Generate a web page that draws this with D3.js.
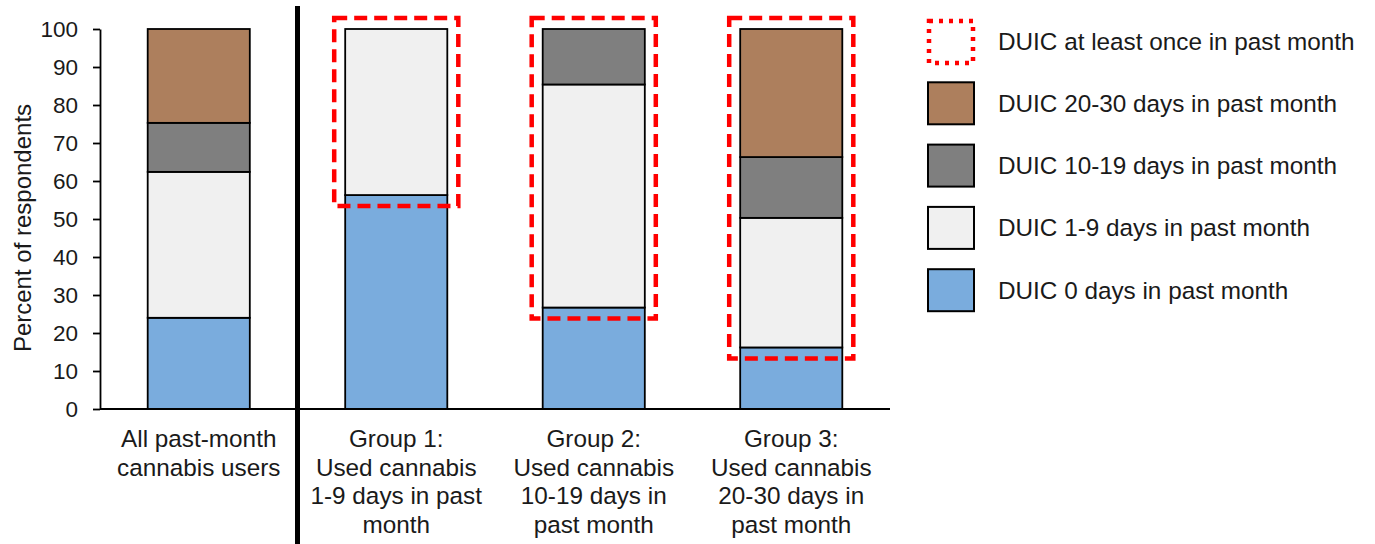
<!DOCTYPE html>
<html>
<head>
<meta charset="utf-8">
<script src="https://cdn.jsdelivr.net/npm/d3@7"></script>
<style>
  body { margin: 0; background: #fff; }
  svg text { font-family: "Liberation Sans", Arial, sans-serif; fill: #1a1a1a; }
</style>
</head>
<body>
<div id="chart"></div>
<script>
// categories (x axis), each label split on lines
const categories = ["all", "g1", "g2", "g3"];
const categoryLabels = [
    ["All past-month", "cannabis users"],
    ["Group 1:", "Used cannabis", "1-9 days in past", "month"],
    ["Group 2:", "Used cannabis", "10-19 days in", "past month"],
    ["Group 3:", "Used cannabis", "20-30 days in", "past month"]
];

// percent of respondents per DUIC frequency, bottom to top
const duic0 = [24.0, 56.3, 26.7, 16.2];
const duic1to9 = [38.4, 43.7, 58.7, 34.1];
const duic10to19 = [12.9, 0, 14.6, 16.0];
const duic20to30 = [24.7, 0, 0, 33.7];

const seriesKeys = ["duic0", "duic1to9", "duic10to19", "duic20to30"];
const seriesNames = ["DUIC 0 days in past month", "DUIC 1-9 days in past month",
    "DUIC 10-19 days in past month", "DUIC 20-30 days in past month"];
const seriesColors = ["#7aacdd", "#f0f0f0", "#7f7f7f", "#ad7f5d"];

// groups outlined with the red box (DUIC at least once)
const boxedCategories = ["g1", "g2", "g3"];
const yTicks = [0, 10, 20, 30, 40, 50, 60, 70, 80, 90, 100];

const width = 1375, height = 544;
const margin = {left: 100, right: 485, top: 29, bottom: 135};

let rows = categories.map((c, i) => ({
    cat: c,
    duic0: duic0[i],
    duic1to9: duic1to9[i],
    duic10to19: duic10to19[i],
    duic20to30: duic20to30[i]
}));

let stacked = d3.stack().keys(seriesKeys)(rows);

let svg = d3.select("#chart")
    .append("svg")
    .attr("width", width)
    .attr("height", height);

let x = d3.scaleBand()
    .domain(categories)
    .range([margin.left, width - margin.right])
    .paddingInner(0.483)
    .paddingOuter(0.2415);

let y = d3.scaleLinear()
    .domain([0, 100])
    .range([height - margin.bottom, margin.top]);

// bars
svg.selectAll(".layer")
    .data(stacked)
    .enter()
    .append("g")
    .attr("class", "layer")
    .attr("fill", (d, i) => seriesColors[i])
    .selectAll("rect")
    .data(d => d.filter(s => s[1] - s[0] > 0))
    .enter()
    .append("rect")
    .attr("x", d => x(d.data.cat))
    .attr("y", d => y(d[1]))
    .attr("width", x.bandwidth())
    .attr("height", d => y(d[0]) - y(d[1]))
    .attr("stroke", "#000")
    .attr("stroke-width", 1.8);

// red dashed boxes around the DUIC >= 1 day part
let pad = 11;
svg.selectAll(".duic-box")
    .data(rows.filter(r => boxedCategories.includes(r.cat)))
    .enter()
    .append("rect")
    .attr("class", "duic-box")
    .attr("x", d => x(d.cat) - pad)
    .attr("y", d => y(100) - pad)
    .attr("width", x.bandwidth() + 2 * pad)
    .attr("height", d => y(d.duic0) - y(100) + 2 * pad)
    .attr("fill", "none")
    .attr("stroke", "#ff0000")
    .attr("stroke-width", 4.5)
    .attr("stroke-dasharray", "13,7");

// y axis
let yAxis = svg.append("g")
    .attr("transform", "translate(" + margin.left + ",0)")
    .call(d3.axisLeft(y).tickValues(yTicks).tickSize(7).tickSizeOuter(0).tickPadding(15));
yAxis.select(".domain").attr("stroke", "#000").attr("stroke-width", 1.8);
yAxis.selectAll(".tick line").attr("stroke", "#000").attr("stroke-width", 1.8);
yAxis.selectAll(".tick text")
    .style("font-size", "22.5px")
    .style("font-family", "'Liberation Sans', Arial, sans-serif")
    .attr("fill", "#1a1a1a");

// x axis baseline
svg.append("line")
    .attr("x1", margin.left)
    .attr("x2", width - margin.right)
    .attr("y1", y(0))
    .attr("y2", y(0))
    .attr("stroke", "#000")
    .attr("stroke-width", 2);

// category labels
svg.selectAll(".cat-label")
    .data(categories)
    .enter()
    .append("text")
    .attr("class", "cat-label")
    .attr("text-anchor", "middle")
    .style("font-size", "24.3px")
    .each(function(d, i) {
        d3.select(this).selectAll("tspan")
            .data(categoryLabels[i])
            .enter()
            .append("tspan")
            .attr("x", x(d) + x.bandwidth() / 2)
            .attr("y", (t, j) => y(0) + 38 + j * 28.5)
            .text(t => t);
    });

// thick divider between all users and the groups
let divX = x(categories[0]) + x.bandwidth() + x.step() * x.paddingInner() / 2;
svg.append("line")
    .attr("x1", divX)
    .attr("x2", divX)
    .attr("y1", 6)
    .attr("y2", height)
    .attr("stroke", "#000")
    .attr("stroke-width", 5);

// y axis title
svg.append("text")
    .attr("transform", "translate(31," + 228 + ") rotate(-90)")
    .attr("text-anchor", "middle")
    .style("font-size", "24px")
    .text("Percent of respondents");

// legend
const legendItems = [{name: "DUIC at least once in past month", dotted: true}]
    .concat(seriesNames.map((n, i) => ({name: n, color: seriesColors[i]})).reverse());

let legend = svg.selectAll(".legend-item")
    .data(legendItems)
    .enter()
    .append("g")
    .attr("class", "legend-item")
    .attr("transform", (d, i) => "translate(928," + (20 + i * 62.3) + ")");

legend.append("rect")
    .attr("x", d => d.dotted ? 1 : 0)
    .attr("y", d => d.dotted ? 1 : 0)
    .attr("width", d => d.dotted ? 44 : 46)
    .attr("height", d => d.dotted ? 42 : 42)
    .attr("fill", d => d.dotted ? "none" : d.color)
    .attr("stroke", d => d.dotted ? "#ff0000" : "#000")
    .attr("stroke-width", d => d.dotted ? 4.5 : 2)
    .attr("stroke-dasharray", d => d.dotted ? "4,6" : null);

legend.append("text")
    .attr("x", 70)
    .attr("y", 21)
    .attr("dy", "0.35em")
    .style("font-size", "24.3px")
    .text(d => d.name);
</script>
</body>
</html>
